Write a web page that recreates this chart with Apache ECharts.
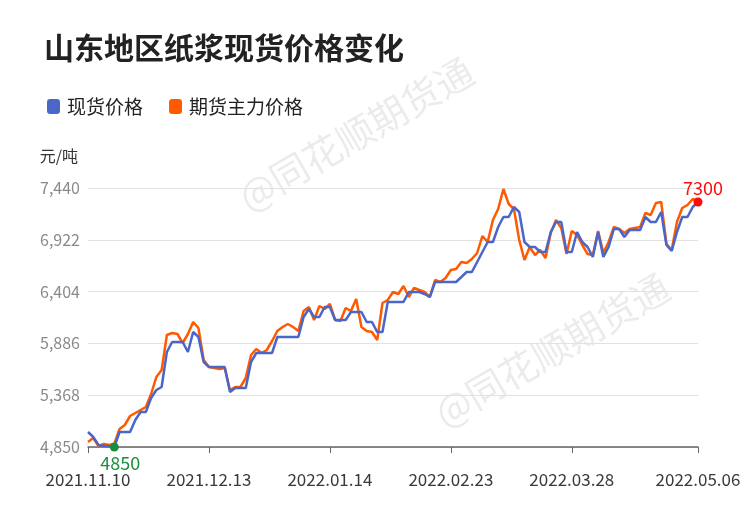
<!DOCTYPE html>
<html><head><meta charset="utf-8">
<script src="https://cdn.jsdelivr.net/npm/echarts@6/dist/echarts.min.js"></script>
<style>html,body{margin:0;padding:0;background:#fff}#c{width:750px;height:510px}</style>
</head><body><div id="c"></div>
<script>
const dates = [
'2021.11.10','2021.11.11','2021.11.12','2021.11.15','2021.11.16','2021.11.17','2021.11.18','2021.11.19','2021.11.22','2021.11.23','2021.11.24','2021.11.25','2021.11.26','2021.11.29','2021.11.30',
'2021.12.01','2021.12.02','2021.12.03','2021.12.06','2021.12.07','2021.12.08','2021.12.09','2021.12.10','2021.12.13','2021.12.14','2021.12.15','2021.12.16','2021.12.17','2021.12.20','2021.12.21','2021.12.22','2021.12.23','2021.12.24','2021.12.27','2021.12.28','2021.12.29','2021.12.30','2021.12.31',
'2022.01.04','2022.01.05','2022.01.06','2022.01.07','2022.01.10','2022.01.11','2022.01.12','2022.01.13','2022.01.14','2022.01.17','2022.01.18','2022.01.19','2022.01.20','2022.01.21','2022.01.24','2022.01.25','2022.01.26','2022.01.27','2022.01.28',
'2022.02.07','2022.02.08','2022.02.09','2022.02.10','2022.02.11','2022.02.14','2022.02.15','2022.02.16','2022.02.17','2022.02.18','2022.02.21','2022.02.22','2022.02.23','2022.02.24','2022.02.25','2022.02.28',
'2022.03.01','2022.03.02','2022.03.03','2022.03.04','2022.03.07','2022.03.08','2022.03.09','2022.03.10','2022.03.11','2022.03.14','2022.03.15','2022.03.16','2022.03.17','2022.03.18','2022.03.21','2022.03.22','2022.03.23','2022.03.24','2022.03.25','2022.03.28','2022.03.29','2022.03.30','2022.03.31',
'2022.04.01','2022.04.06','2022.04.07','2022.04.08','2022.04.11','2022.04.12','2022.04.13','2022.04.14','2022.04.15','2022.04.18','2022.04.19','2022.04.20','2022.04.21','2022.04.22','2022.04.25','2022.04.26','2022.04.27','2022.04.28','2022.04.29',
'2022.05.05','2022.05.06'
];
const spotPrice = [
5000,4950,4870,4860,4860,4850,5000,5000,5000,5120,5200,5200,5340,5420,5450,5800,5900,5900,5900,5800,
6000,5950,5700,5650,5650,5650,5650,5400,5440,5440,5440,5700,5790,5790,5790,5790,5950,5950,5950,5950,
5950,6150,6230,6150,6150,6250,6250,6120,6120,6120,6200,6200,6200,6100,6100,6000,6000,6300,6300,6300,
6300,6400,6400,6400,6380,6350,6500,6500,6500,6500,6500,6550,6600,6600,6700,6800,6900,6900,7050,7150,
7150,7250,7200,6900,6850,6850,6800,6800,7000,7100,7100,6800,6800,7000,6900,6850,6750,7000,6750,6850,
7030,7030,6950,7020,7020,7020,7150,7100,7100,7200,6870,6810,7000,7150,7150,7250,7300
];
const futuresPrice = [
4900,4940,4860,4880,4870,4880,5030,5070,5160,5190,5220,5250,5380,5550,5620,5970,5990,5980,5890,5980,
6100,6040,5720,5650,5640,5630,5640,5420,5450,5450,5540,5770,5830,5790,5820,5910,6010,6050,6080,6050,
6010,6210,6250,6120,6260,6230,6280,6120,6110,6240,6210,6330,6050,6010,6000,5920,6290,6320,6400,6380,
6460,6350,6440,6420,6400,6350,6520,6500,6540,6620,6630,6700,6690,6730,6790,6960,6900,7120,7230,7430,
7280,7230,6920,6720,6850,6770,6820,6740,6990,7120,7040,6780,7010,6970,6870,6780,6770,7010,6790,6900,
7050,7030,6990,7030,7040,7050,7190,7170,7290,7300,6880,6820,7100,7240,7270,7330,7310
];
const xTickLabels = ['2021.11.10','2021.12.13','2022.01.14','2022.02.23','2022.03.28','2022.05.06'];
const yTicks = [4850,5368,5886,6404,6922,7440];
const seriesNames = ['现货价格','期货主力价格'];
const titleText = '山东地区纸浆现货价格变化';
const unitText = '元/吨';
const watermarkText = '@同花顺期货通';

const FONT = '"Noto Sans CJK SC","Noto Sans",sans-serif';
const chart = echarts.init(document.getElementById('c'), null, {renderer:'canvas'});
const showTick = (idx, val) => xTickLabels.indexOf(val) >= 0;
chart.setOption({
  animation:false,
  textStyle:{fontFamily:FONT},
  title:{text:titleText,left:39,top:28,textStyle:{fontSize:30,fontWeight:'bold',color:'#222',fontFamily:FONT}},
  legend:{left:42,top:92,icon:'roundRect',itemWidth:13,itemHeight:15,itemGap:26,
    textStyle:{fontSize:19,color:'#222',fontFamily:FONT,padding:[0,0,0,2]},data:seriesNames},
  grid:{left:88,right:52,top:188,bottom:63,containLabel:false},
  graphic:[
    {type:'text',x:356,y:134,rotation:Math.PI/6,z:0,silent:true,
      style:{text:watermarkText,fontSize:38,fontFamily:FONT,fill:'rgba(0,0,0,0.08)',align:'center',verticalAlign:'middle'}},
    {type:'text',x:552,y:350,rotation:Math.PI/6,z:0,silent:true,
      style:{text:watermarkText,fontSize:38,fontFamily:FONT,fill:'rgba(0,0,0,0.08)',align:'center',verticalAlign:'middle'}}
  ],
  xAxis:{type:'category',data:dates,boundaryGap:false,
    axisLine:{lineStyle:{color:'#666',width:1.5}},
    axisTick:{interval:showTick,length:6,lineStyle:{color:'#666'}},
    axisLabel:{interval:showTick,fontSize:17,color:'#3a3a3a',margin:24,fontFamily:FONT},
    splitLine:{show:false}},
  yAxis:{type:'value',min:yTicks[0],max:yTicks[yTicks.length-1],
    name:unitText,nameLocation:'end',nameGap:24,
    nameTextStyle:{align:'right',color:'#333',fontSize:16,padding:[0,10,0,0],fontFamily:FONT},
    axisLine:{show:false},
    axisTick:{show:false,customValues:yTicks},
    axisLabel:{customValues:yTicks,fontSize:16,color:'#8a8a8a',margin:8,fontFamily:FONT,
      formatter:v=>Number(v).toLocaleString('en-US')},
    splitLine:{show:true,lineStyle:{color:'#e2e2e2',width:1}}},
  series:[
    {name:seriesNames[0],type:'line',data:spotPrice,showSymbol:false,symbol:'none',z:3,
      lineStyle:{color:'#4a66c8',width:2.5},itemStyle:{color:'#4a66c8'},
      markPoint:{symbol:'circle',symbolSize:9,
        label:{show:true,fontSize:18,fontFamily:FONT,formatter:p=>p.value},
        data:[
          {type:'min',itemStyle:{color:'#1a8f3a'},label:{position:'bottom',distance:3,offset:[6,0],color:'#1a8f3a'}},
          {type:'max',itemStyle:{color:'#ff0a0a'},label:{position:'top',distance:0,offset:[5,0],color:'#ff0a0a'}}
        ]}},
    {name:seriesNames[1],type:'line',data:futuresPrice,showSymbol:false,symbol:'none',z:2,
      lineStyle:{color:'#ff5a00',width:2.5},itemStyle:{color:'#ff5a00'}}
  ]
});
</script>
</body></html>
